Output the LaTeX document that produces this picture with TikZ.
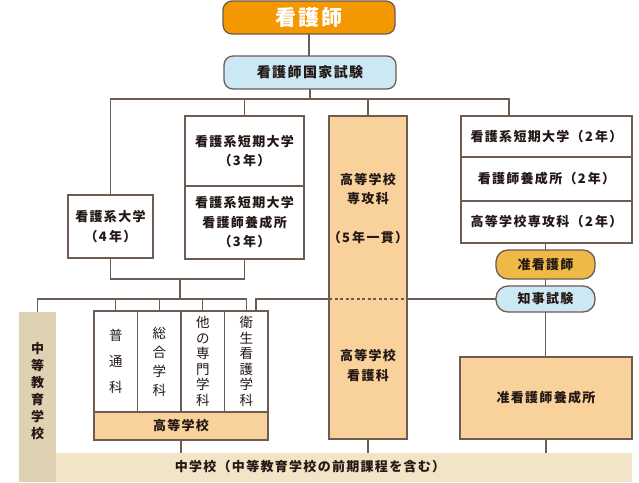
\documentclass[tikz,border=0pt]{standalone}
\usepackage{fontspec}
\setmainfont{Noto Sans CJK JP}[LetterSpace=10]
\definecolor{nurseorange}{RGB}{243,152,0}
\definecolor{examblue}{RGB}{205,232,245}
\definecolor{assocgold}{RGB}{238,185,70}
\definecolor{schoolpeach}{RGB}{249,210,155}
\definecolor{chutotan}{RGB}{222,210,178}
\definecolor{juniorcream}{RGB}{241,228,199}
\definecolor{linebrown}{RGB}{108,92,82}
\definecolor{inkblack}{RGB}{35,24,21}
\newcommand{\bodyfont}{\fontsize{13}{19.5}\selectfont\bfseries}

\begin{document}
\begin{tikzpicture}[x=1pt,y=-1pt,
	conn/.style={draw=linebrown,line width=1.3pt},
	box node/.style={draw=linebrown,line width=1.3pt,inner sep=0pt,outer sep=0pt,align=center,text=inkblack,font=\bodyfont},
	white node/.style={box node,fill=white},
	peach node/.style={box node,fill=schoolpeach},
	pill node/.style={box node,rounded corners=12pt,minimum width=99pt},
	subject node/.style={box node,fill=white,font=\fontsize{13.5}{15.5}\selectfont,minimum width=43.5pt,minimum height=101pt},
	plain text/.style={inner sep=0pt,align=center,text=inkblack,font=\bodyfont}]

	\useasboundingbox (0,0) rectangle (639,482);

	\node[box node,fill=nurseorange,rounded corners=9pt,minimum width=172pt,minimum height=33pt,text=white,font=\fontsize{21}{24}\selectfont\bfseries] at (309,17.5) (nurse) {看護師};
	\node[box node,fill=examblue,rounded corners=9pt,minimum width=172pt,minimum height=33pt,font=\fontsize{14}{18}\selectfont\bfseries] at (310,72.5) (exam) {看護師国家試験};

	\node[white node,minimum width=85pt,minimum height=63pt] at (110.5,226.5) (univ) {看護系大学\\（4\,年）};
	\node[white node,minimum width=119pt,minimum height=70pt] at (244.5,151) (tan3) {看護系短期大学\\（3\,年）};
	\node[white node,minimum width=119pt,minimum height=73pt] at (244.5,222.5) (tanyo) {看護系短期大学\\看護師養成所\\（3\,年）};

	\node[peach node,minimum width=78pt,minimum height=323pt] at (368,277.5) (senko) {};
	\node[plain text] at (368,208.5) (senkoA) {高等学校\\専攻科\\[19.5pt]（5\,年一貫）};
	\node[plain text] at (368,365.5) (senkoB) {高等学校\\看護科};

	\node[white node,minimum width=171pt,minimum height=41pt] at (546.5,136.5) (r1) {看護系短期大学（2\,年）};
	\node[white node,minimum width=171pt,minimum height=44pt] at (546.5,179) (r2) {看護師養成所（2\,年）};
	\node[white node,minimum width=171pt,minimum height=42pt] at (546.5,222) (r3) {高等学校専攻科（2\,年）};

	\node[pill node,fill=assocgold,minimum height=29pt] at (545.5,264.5) (junkan) {准看護師};
	\node[pill node,fill=examblue,minimum height=26pt] at (545.5,299) (chiji) {知事試験};
	\node[peach node,minimum width=172pt,minimum height=82pt] at (546,398) (junyo) {准看護師養成所};

	\node[fill=chutotan,minimum width=37pt,minimum height=170pt,inner sep=0pt] at (37.5,397) (chuto) {};
	\node[plain text,font=\fontsize{13}{17}\selectfont\bfseries] at (37.5,391) (chutoText) {中\\等\\教\\育\\学\\校};
	\node[fill=juniorcream,minimum width=576pt,minimum height=29pt,inner sep=0pt] at (344,467.5) (chugaku) {};
	\node[plain text] at (310,467) (chugakuText) {中学校（中等教育学校の前期課程を含む）};

	\node[subject node,font=\fontsize{13.5}{26}\selectfont] at (115.75,361.5) (futsu) {普\\通\\科};
	\node[subject node,font=\fontsize{13.5}{19}\selectfont] at (159.25,361.5) (sogo) {総\\合\\学\\科};
	\node[subject node] at (202.75,361.5) (senmon) {他\\の\\専\\門\\学\\科};
	\node[subject node] at (246.25,361.5) (eisei) {衛\\生\\看\\護\\学\\科};
	\node[peach node,minimum width=174pt,minimum height=28pt] at (181,426) (koko) {高等学校};

	\coordinate (busTop) at (310,99);
	\coordinate (rdrop) at (509,116);
	\coordinate (midJoin) at (180,279);
	\coordinate (busLow) at (180,299);
	\coordinate (eiseiTop) at (256,311);

	\draw[conn] (nurse.south) -- (nurse.south |- exam.north);
	\draw[conn] (exam.south) -- (exam.south |- busTop);
	\draw[conn] (univ.north) |- (rdrop |- busTop) -- (rdrop);
	\draw[conn] (tan3.north) -- (tan3.north |- busTop);
	\draw[conn] (senko.north) -- (senko.north |- busTop);
	\draw[conn] (univ.south) |- (midJoin) -| (tanyo.south);
	\draw[conn] (midJoin) -- (busLow);
	\draw[conn] (chuto.north) |- (eisei.north |- busLow) -- (eisei.north);
	\draw[conn] (futsu.north) -- (futsu.north |- busLow);
	\draw[conn] (sogo.north) -- (sogo.north |- busLow);
	\draw[conn] (senmon.north) -- (senmon.north |- busLow);
	\draw[conn] (eiseiTop) |- (senko.west |- chiji.west);
	\draw[conn,dash pattern=on 3pt off 2.5pt] (senko.west |- chiji.west) -- (senko.east |- chiji.west);
	\draw[conn] (senko.east |- chiji.west) -- (chiji.west);
	\draw[conn] (junkan.north |- r3.south) -- (junkan.north);
	\draw[conn] (junkan) -- (chiji);
	\draw[conn] (chiji.south) -- (chiji.south |- junyo.north);
	\draw[conn] (koko.south) -- (koko.south |- chugaku.north);
	\draw[conn] (senko.south) -- (senko.south |- chugaku.north);
	\draw[conn] (junyo.south) -- (junyo.south |- chugaku.north);

\end{tikzpicture}
\end{document}
